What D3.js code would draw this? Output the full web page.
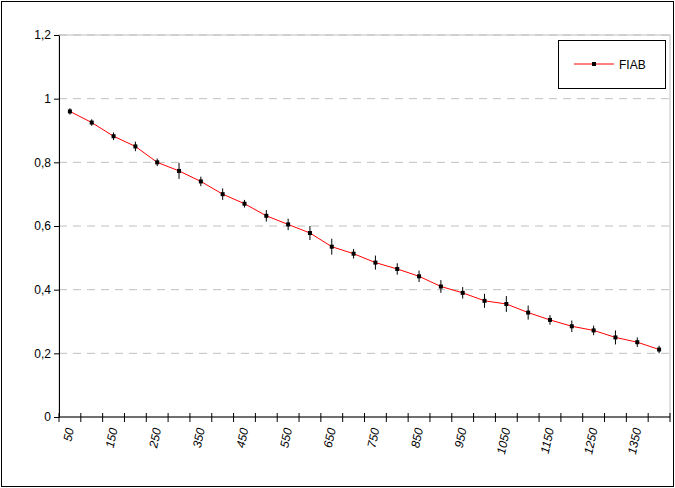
<!DOCTYPE html><html><head><meta charset="utf-8"><script src="https://cdn.jsdelivr.net/npm/d3@7"></script>
<style>body{margin:0}text{font-family:Arial,"Liberation Sans",sans-serif;font-size:12px}</style></head><body><svg id="c" width="675" height="488"></svg><script>
const categories=[50,100,150,200,250,300,350,400,450,500,550,600,650,700,750,800,850,900,950,1000,1050,1100,1150,1200,1250,1300,1350,1400];
const values=[0.96,0.925,0.882,0.85,0.80,0.773,0.74,0.70,0.67,0.632,0.605,0.578,0.535,0.513,0.485,0.465,0.442,0.41,0.39,0.365,0.355,0.328,0.305,0.285,0.272,0.25,0.235,0.212];
const errors=[0.01,0.01,0.012,0.015,0.012,0.025,0.015,0.018,0.012,0.018,0.018,0.022,0.025,0.015,0.022,0.018,0.018,0.02,0.018,0.022,0.025,0.022,0.015,0.018,0.015,0.022,0.015,0.012];
const yTicks=[0,0.2,0.4,0.6,0.8,1,1.2];
const svg=d3.select("#c");
svg.append("rect").attr("x",1.5).attr("y",1.5).attr("width",672).attr("height",485).attr("fill","#fff").attr("stroke","#000");
const L=59,R=670,T=35,B=417;
const x=d3.scaleBand().domain(categories).range([L,R]);
const y=d3.scaleLinear().domain([0,1.2]).range([B,T]);
svg.append("rect").attr("x",L).attr("y",T).attr("width",R-L).attr("height",B-T).attr("fill","none").attr("stroke","#c0c0c0");
yTicks.slice(1).forEach(t=>svg.append("line").attr("x1",L).attr("x2",R).attr("y1",y(t)).attr("y2",y(t)).attr("stroke","#c0c0c0").attr("stroke-dasharray","8,6"));
const fmt=d=>String(d).replace(".",",");
svg.append("g").attr("transform",`translate(${L},0)`).call(d3.axisLeft(y).tickValues(yTicks).tickFormat(fmt).tickSize(5).tickSizeOuter(0)).call(g=>{g.selectAll("text").attr("font-size",13).attr("fill","#000").attr("font-family","Arial");g.select(".domain").attr("stroke","#000");});
const xa=svg.append("g").attr("transform",`translate(0,${B})`);
xa.append("line").attr("x1",L).attr("x2",R).attr("stroke","#000");
categories.forEach((c,i)=>{const bx=x(c);xa.append("line").attr("x1",bx).attr("x2",bx).attr("y1",-4).attr("y2",5).attr("stroke","#000");
 if(i%2==0) xa.append("text").attr("transform",`translate(${bx+x.bandwidth()/2+4},${12}) rotate(-78)`).attr("text-anchor","end").attr("font-size",13).attr("font-style","italic").text(c);});
xa.append("line").attr("x1",R).attr("x2",R).attr("y1",-4).attr("y2",5).attr("stroke","#000");
const cx=c=>x(c)+x.bandwidth()/2;
svg.append("path").datum(values).attr("fill","none").attr("stroke","#ff0000").attr("stroke-width",1).attr("d",d3.line().x((d,i)=>cx(categories[i])).y(d=>y(d)));
values.forEach((v,i)=>{svg.append("line").attr("x1",cx(categories[i])).attr("x2",cx(categories[i])).attr("y1",y(v-errors[i])).attr("y2",y(v+errors[i])).attr("stroke","#000").attr("stroke-width",1);
 svg.append("rect").attr("x",cx(categories[i])-2).attr("y",y(v)-2).attr("width",4).attr("height",4).attr("fill","#000");});
const lg=svg.append("g");
lg.append("rect").attr("x",558.5).attr("y",40.5).attr("width",107).attr("height",48).attr("fill","#fff").attr("stroke","#000");
lg.append("line").attr("x1",574).attr("x2",614).attr("y1",64).attr("y2",64).attr("stroke","#ff0000");
lg.append("rect").attr("x",592).attr("y",62).attr("width",4).attr("height",4).attr("fill","#000");
lg.append("text").attr("x",619).attr("y",69).attr("font-size",13).text("FIAB");
</script></body></html>
